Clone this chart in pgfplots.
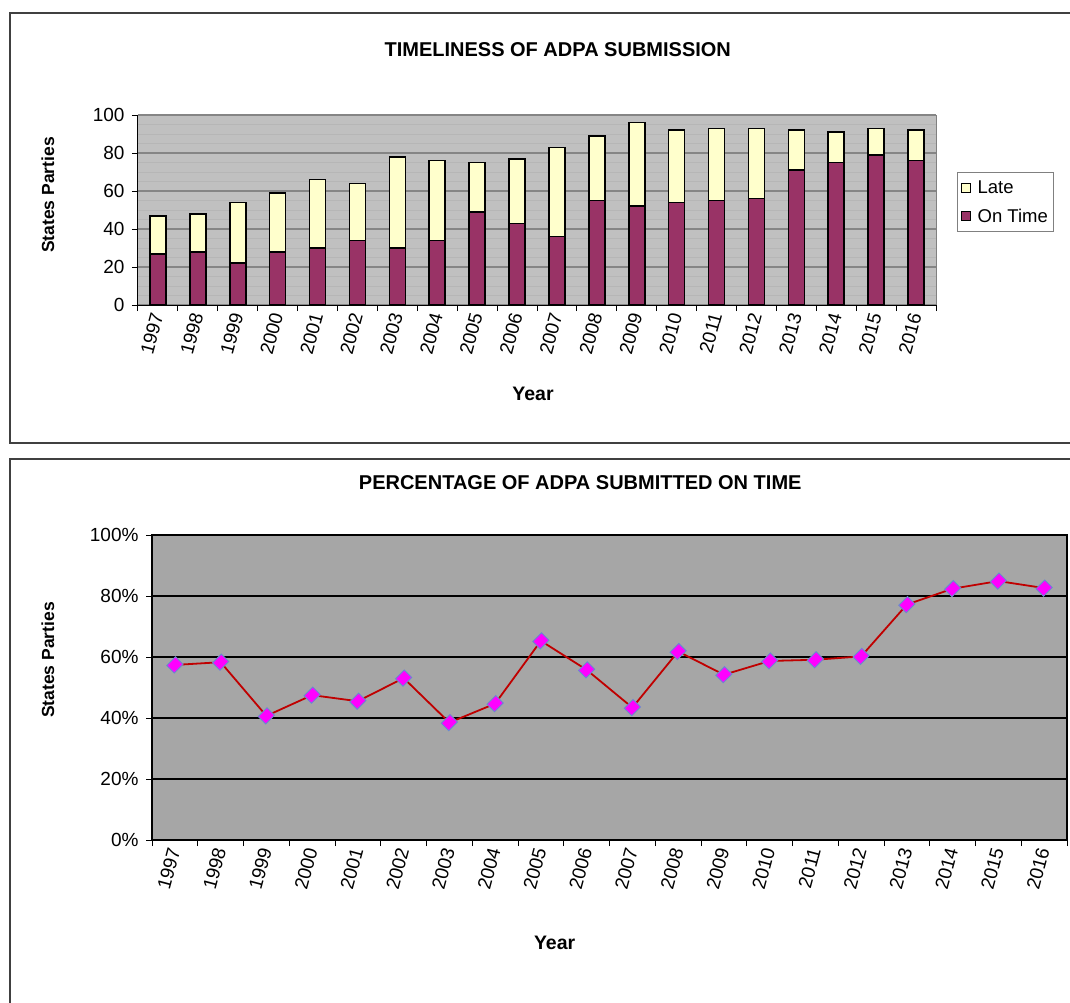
\documentclass[border=0pt]{standalone}
\usepackage{pgfplots}
\pgfplotsset{compat=1.18}
\usepackage{fontspec}
\setmainfont{Liberation Sans}
\definecolor{ontime}{HTML}{993366}
\definecolor{late}{HTML}{FFFFCC}
\definecolor{bgA}{HTML}{C0C0C0}
\definecolor{bgB}{HTML}{A6A6A6}
\definecolor{gridA}{HTML}{858585}
\definecolor{stripe}{HTML}{B6B6B6}
\definecolor{linered}{HTML}{C00000}
\definecolor{mkedge}{HTML}{6A8AD0}
\definecolor{mkfill}{HTML}{FF00FF}
\definecolor{frame}{HTML}{404040}
\pgfplotsset{
  /pgf/number format/assume math mode=true,
  every axis/.append style={
    tick label style={font=\fontsize{19}{21}\selectfont},
    yticklabel style={xshift=-4pt},
    ylabel style={font=\bfseries\fontsize{17.5}{19}\selectfont},
    xlabel style={font=\bfseries\fontsize{19.5}{21}\selectfont},
    title style={font=\bfseries\fontsize{20}{22}\selectfont},
    tick align=outside,
    xtick pos=bottom, ytick pos=left,
    major tick length=6pt,
    tick style={black, line width=1pt},
    xtick={-0.5,0.5,...,19.5},
    x tick label as interval,
    xticklabels={1997,1998,1999,2000,2001,2002,2003,2004,2005,2006,2007,2008,2009,2010,2011,2012,2013,2014,2015,2016},
    xticklabel style={rotate=75, anchor=east, inner sep=2pt},
    xmin=-0.5, xmax=19.5, ymin=0, ymax=100,
    ytick={0,20,...,100},
  }
}
\begin{document}
\begin{tikzpicture}
\path[use as bounding box] (0pt,0pt) rectangle (1070pt,-1003pt);
\draw[line width=1.3pt, frame] (1085pt,-13pt) -- (10pt,-13pt) -- (10pt,-443pt) -- (1085pt,-443pt);
\draw[line width=1.3pt, frame] (1085pt,-459pt) -- (10pt,-459pt) -- (10pt,-1015pt);

% ---------------- top chart ----------------
\begin{axis}[
  at={(138pt,-305pt)}, anchor=south west,
  scale only axis, width=798pt, height=190pt,
  ybar stacked, bar width=16pt,
  axis x line*=bottom, axis y line*=left,
  axis line style={black, line width=1pt},
  axis background/.style={fill=bgA, draw=gray, line width=1pt},
  ymajorgrids, yminorgrids, minor y tick num=3, minor tick length=0pt,
  major grid style={gridA, line width=1.2pt},
  minor grid style={stripe, line width=0.8pt},
  title={TIMELINESS OF ADPA SUBMISSION},
  title style={at={(axis description cs:0.526,1.311)}, anchor=center},
  xlabel={Year},
  xlabel style={at={(axis description cs:0.495,-0.468)}, anchor=center},
  ylabel={States Parties},
  ylabel style={at={(axis description cs:-0.113,0.579)}, anchor=center},
  reverse legend,
  legend style={at={(axis description cs:1.026,0.70)}, anchor=north west,
    draw=gray, line width=1pt, fill=white,
    font=\fontsize{18.5}{20}\selectfont,
    inner xsep=4pt, inner ysep=6pt, row sep=10pt,
    cells={anchor=west}},
  legend image code/.code={\draw[#1, line width=1.2pt] (0pt,-4.5pt) rectangle (9pt,4.5pt); \path (13pt,0pt);},
]
\addplot[fill=ontime, draw=black, line width=1.6pt] coordinates {
(0,27) (1,28) (2,22) (3,28) (4,30) (5,34) (6,30) (7,34) (8,49) (9,43)
(10,36) (11,55) (12,52) (13,54) (14,55) (15,56) (16,71) (17,75) (18,79) (19,76)};
\addplot[fill=late, draw=black, line width=1.6pt] coordinates {
(0,20) (1,20) (2,32) (3,31) (4,36) (5,30) (6,48) (7,42) (8,26) (9,34)
(10,47) (11,34) (12,44) (13,38) (14,38) (15,37) (16,21) (17,16) (18,14) (19,16)};
\legend{On Time, Late}
\end{axis}

% ---------------- bottom chart ----------------
\begin{axis}[
  at={(152pt,-840pt)}, anchor=south west,
  scale only axis, width=915pt, height=305pt,
  axis line style={black, line width=1.2pt},
  axis background/.style={fill=bgB},
  ymajorgrids, major grid style={black, line width=1.2pt},
  yticklabel={\pgfmathprintnumber{\tick}\%},
  title={PERCENTAGE OF ADPA SUBMITTED ON TIME},
  title style={at={(axis description cs:0.468,1.151)}, anchor=center},
  xlabel={Year},
  xlabel style={at={(axis description cs:0.440,-0.338)}, anchor=center},
  ylabel={States Parties},
  ylabel style={at={(axis description cs:-0.1137,0.590)}, anchor=center},
]
\addplot[linered, line width=1.8pt, mark=square*, mark size=6.2pt,
  mark options={fill=mkfill, draw=mkedge, line width=0.9pt, rotate=45, yscale=0.85}] coordinates {
(0,57.4) (1,58.3) (2,40.7) (3,47.5) (4,45.5) (5,53.1) (6,38.5) (7,44.7) (8,65.3) (9,55.8)
(10,43.4) (11,61.8) (12,54.2) (13,58.7) (14,59.1) (15,60.2) (16,77.2) (17,82.4) (18,84.9) (19,82.6)};
\end{axis}
\end{tikzpicture}
\end{document}
